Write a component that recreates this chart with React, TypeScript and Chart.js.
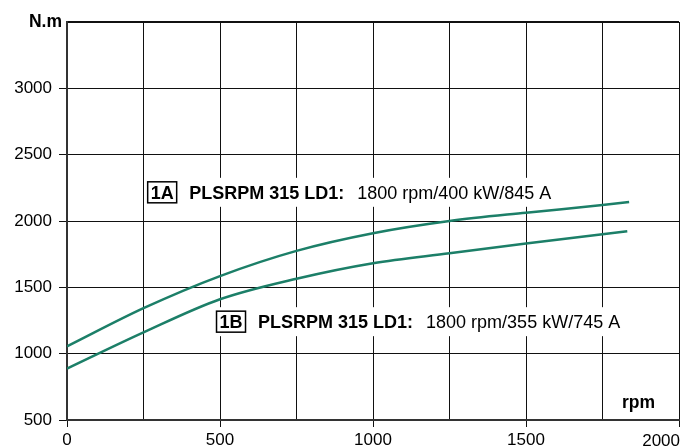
import React, { useEffect, useRef } from "react";
import { Chart, registerables } from "chart.js";

Chart.register(...registerables);

const rpmA = [0, 250, 500, 750, 1000, 1250, 1500, 1750, 1837];
const torqueA = [1055, 1343, 1585, 1775, 1908, 2000, 2063, 2120, 2143];
const rpmB = [0, 250, 500, 750, 1000, 1250, 1500, 1750, 1831];
const torqueB = [887, 1160, 1410, 1565, 1682, 1757, 1830, 1900, 1922];

const labelA = { tag: "1A", bold: "PLSRPM 315 LD1:", normal: "1800 rpm/400 kW/845 A", rpm: 262, nm: 2220 };
const labelB = { tag: "1B", bold: "PLSRPM 315 LD1:", normal: "1800 rpm/355 kW/745 A", rpm: 487, nm: 1245 };

const FONT = "'Liberation Sans', Arial, Helvetica, sans-serif";
const LINE_COLOR = "#1c7f68";
const X_MAX = 2000;

const textPlugin = {
  id: "texts",
  afterDatasetsDraw(chart: any) {
    const { ctx, chartArea, scales } = chart;
    ctx.save();
    [labelA, labelB].forEach((l) => {
      const x0 = scales.x.getPixelForValue(l.rpm);
      const yc = scales.y.getPixelForValue(l.nm);
      ctx.font = `bold 18px ${FONT}`;
      const bw = ctx.measureText(l.bold).width;
      ctx.font = `18px ${FONT}`;
      const nw = ctx.measureText(l.normal).width;
      const total = 42 + bw + 13 + nw + 4;
      ctx.fillStyle = "#fff";
      ctx.fillRect(x0, yc - 14, total, 29);
      ctx.strokeStyle = "#000";
      ctx.lineWidth = 1.5;
      ctx.strokeRect(x0 + 0.5, yc - 10, 29, 21);
      ctx.fillStyle = "#000";
      ctx.textBaseline = "alphabetic";
      ctx.textAlign = "center";
      ctx.font = `bold 18px ${FONT}`;
      ctx.fillText(l.tag, x0 + 15, yc + 7);
      ctx.textAlign = "left";
      ctx.fillText(l.bold, x0 + 42, yc + 7);
      ctx.font = `18px ${FONT}`;
      ctx.fillText(l.normal, x0 + 42 + bw + 13, yc + 7);
    });
    ctx.font = `bold 17.5px ${FONT}`;
    ctx.fillStyle = "#000";
    ctx.textAlign = "right";
    ctx.textBaseline = "alphabetic";
    ctx.fillText("rpm", chartArea.right - 24, chartArea.bottom - 12);
    ctx.fillText("N.m", chartArea.left - 5, chartArea.top + 5);
    // last x tick label, kept inside the canvas
    ctx.font = `17px ${FONT}`;
    ctx.textBaseline = "top";
    ctx.fillText(String(X_MAX), scales.x.getPixelForValue(X_MAX) + 1, chartArea.bottom + 13);
    ctx.restore();
  },
};

export default function App() {
  const ref = useRef<HTMLCanvasElement>(null);
  useEffect(() => {
    document.body.style.margin = "0";
    const canvas = ref.current!;
    const chart = new Chart(canvas, {
      type: "line",
      data: {
        datasets: [
          {
            label: "1A",
            data: rpmA.map((x, i) => ({ x, y: torqueA[i] })),
            borderColor: LINE_COLOR,
            borderWidth: 2.5,
            pointRadius: 0,
            cubicInterpolationMode: "monotone",
            fill: false,
          },
          {
            label: "1B",
            data: rpmB.map((x, i) => ({ x, y: torqueB[i] })),
            borderColor: LINE_COLOR,
            borderWidth: 2.5,
            pointRadius: 0,
            cubicInterpolationMode: "monotone",
            fill: false,
          },
        ],
      },
      options: {
        responsive: false,
        animation: false,
        layout: { padding: { top: 22, right: 5, left: 0, bottom: 0 } },
        plugins: { legend: { display: false }, tooltip: { enabled: false } },
        scales: {
          x: {
            type: "linear",
            min: 0,
            max: X_MAX,
            afterFit: (s: any) => {
              s.height = 27;
              s.paddingRight = 0;
              s.paddingLeft = 0;
            },
            ticks: {
              stepSize: 250,
              autoSkip: false,
              maxRotation: 0,
              padding: 3,
              color: "#000",
              font: { family: FONT, size: 17 },
              callback: (v: any) => (Number(v) % 500 === 0 && Number(v) < X_MAX ? String(v) : ""),
            },
            grid: {
              color: "#111",
              lineWidth: 1,
              tickLength: 7,
              tickColor: (c: any) => (c.tick && c.tick.value % 500 === 0 ? "#111" : "rgba(0,0,0,0)"),
            },
            border: { color: "#333", width: 2 },
          },
          y: {
            min: 500,
            max: 3500,
            afterFit: (s: any) => {
              s.width = 67;
              s.paddingTop = 0;
              s.paddingBottom = 0;
            },
            ticks: {
              stepSize: 500,
              padding: 7,
              color: "#000",
              font: { family: FONT, size: 17 },
              callback: (v: any) => (Number(v) >= 3500 ? "" : String(v)),
            },
            grid: {
              color: "#111",
              lineWidth: (c: any) => (c.tick && c.tick.value === 3500 ? 2 : 1),
              tickLength: 8,
              tickColor: (c: any) => (c.tick && c.tick.value === 3500 ? "rgba(0,0,0,0)" : "#111"),
            },
            border: { color: "#333", width: 2 },
          },
        },
      },
      plugins: [textPlugin],
    } as any);
    return () => chart.destroy();
  }, []);
  return (
    <div style={{ width: 684, height: 447 }}>
      <canvas ref={ref} width={684} height={447} style={{ display: "block" }} />
    </div>
  );
}
